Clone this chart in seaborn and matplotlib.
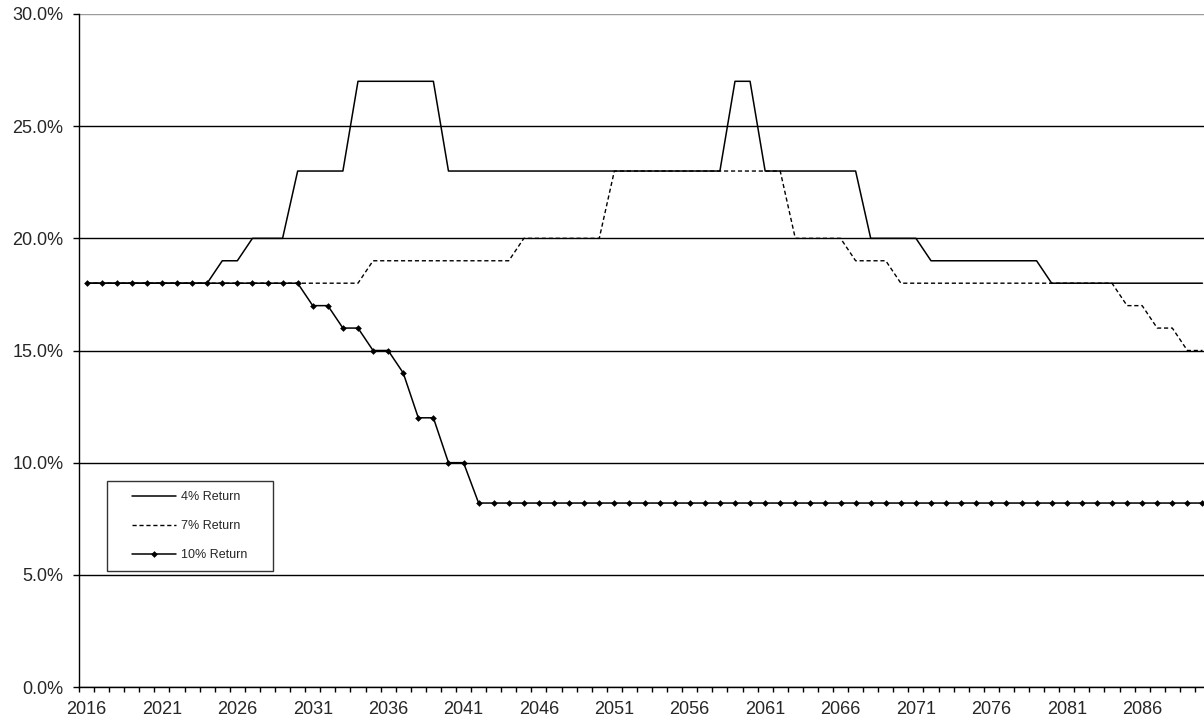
import pandas as pd
import numpy as np
import seaborn as sns
import matplotlib.pyplot as plt
from matplotlib.ticker import PercentFormatter, FixedLocator
from matplotlib.legend_handler import HandlerLine2D

# dati (anni 2016-2090, valori in %)
anni = list(range(2016, 2091))

ritorno_4 = [18, 18, 18, 18, 18, 18, 18, 18, 18,
             19, 19,
             20, 20, 20,
             23, 23, 23, 23,
             27, 27, 27, 27, 27, 27,
             23, 23, 23, 23, 23, 23, 23, 23, 23, 23, 23, 23, 23, 23, 23, 23, 23, 23, 23,
             27, 27,
             23, 23, 23, 23, 23, 23, 23,
             20, 20, 20, 20,
             19, 19, 19, 19, 19, 19, 19, 19,
             18, 18, 18, 18, 18, 18, 18, 18, 18, 18, 18]

ritorno_7 = [18, 18, 18, 18, 18, 18, 18, 18, 18, 18, 18, 18, 18, 18, 18, 18, 18, 18, 18,
             19, 19, 19, 19, 19, 19, 19, 19, 19, 19,
             20, 20, 20, 20, 20, 20,
             23, 23, 23, 23, 23, 23, 23, 23, 23, 23, 23, 23,
             20, 20, 20, 20,
             19, 19, 19,
             18, 18, 18, 18, 18, 18, 18, 18, 18, 18, 18, 18, 18, 18, 18,
             17, 17,
             16, 16,
             15, 15]

ritorno_10 = [18, 18, 18, 18, 18, 18, 18, 18, 18, 18, 18, 18, 18, 18, 18,
              17, 17,
              16, 16,
              15, 15,
              14,
              12, 12,
              10, 10,
              8.2, 8.2, 8.2, 8.2, 8.2, 8.2, 8.2, 8.2, 8.2, 8.2, 8.2, 8.2, 8.2, 8.2, 8.2,
              8.2, 8.2, 8.2, 8.2, 8.2, 8.2, 8.2, 8.2, 8.2, 8.2, 8.2, 8.2, 8.2, 8.2, 8.2,
              8.2, 8.2, 8.2, 8.2, 8.2, 8.2, 8.2, 8.2, 8.2, 8.2, 8.2, 8.2, 8.2, 8.2, 8.2,
              8.2, 8.2, 8.2, 8.2]

etichette = ["4% Return", "7% Return", "10% Return"]

df = pd.DataFrame({"anno": anni, "r4": ritorno_4, "r7": ritorno_7, "r10": ritorno_10})

sns.set_style("ticks")
plt.rcParams['font.family'] = ['Liberation Sans', 'DejaVu Sans']

fig = plt.figure(figsize=(12.04, 7.21), dpi=100)
# area del grafico come in excel
ax = fig.add_axes([79 / 1204, 1 - 687 / 721, 75 * 15.08 / 1204, (687 - 14) / 721])

sns.lineplot(data=df, x="anno", y="r4", ax=ax, color="black", linewidth=1.1,
             label=etichette[0])
sns.lineplot(data=df, x="anno", y="r7", ax=ax, color="black", linewidth=1.0,
             linestyle=(0, (3, 2)), label=etichette[1])
sns.lineplot(data=df, x="anno", y="r10", ax=ax, color="black", linewidth=1.1,
             marker="D", markersize=3.4, markeredgewidth=0, label=etichette[2])

ax.set_xlim(anni[0] - 0.5, anni[-1] + 0.5)
ax.set_ylim(0, 30)
ax.set_xlabel("")
ax.set_ylabel("")

# asse y
ax.set_yticks([0, 5, 10, 15, 20, 25, 30])
ax.yaxis.set_major_formatter(PercentFormatter(decimals=1))
ax.yaxis.grid(True, color="black", linewidth=1)
ax.get_ygridlines()[-1].set_color("#9a9a9a")
ax.tick_params(axis="y", direction="out", length=4, width=1, color="black",
               labelsize=13, pad=7.3)

# asse x: etichette ogni 5 anni, tacche tra le categorie
ax.set_xticks(anni[::5])
ax.set_xticklabels([str(a) for a in anni[::5]])
ax.xaxis.set_minor_locator(FixedLocator(np.arange(anni[0] - 0.5, anni[-1] + 1, 1)))
ax.tick_params(axis="x", which="major", length=0, labelsize=13, pad=10)
ax.tick_params(axis="x", which="minor", direction="out", length=3.8, width=1, color="black")

for lato in ["top", "right"]:
    ax.spines[lato].set_visible(False)
for lato in ["left", "bottom"]:
    ax.spines[lato].set_color("black")
    ax.spines[lato].set_linewidth(1)

# legenda con riquadro largo come nell'originale
gestore = HandlerLine2D(xpad=1.17)
handles, labels = ax.get_legend_handles_labels()
leg = ax.legend(handles, labels, loc="lower left",
                bbox_to_anchor=(0.025, 0.1728, 0.1462, 0.12), mode="expand",
                fontsize=9, handlelength=4.69, labelspacing=1.35, borderpad=0.78,
                handletextpad=0.46, frameon=True, fancybox=False, borderaxespad=0,
                handler_map={h: gestore for h in handles})
leg.get_frame().set_edgecolor("black")
leg.get_frame().set_linewidth(1)

plt.savefig("out.png", dpi=100)
